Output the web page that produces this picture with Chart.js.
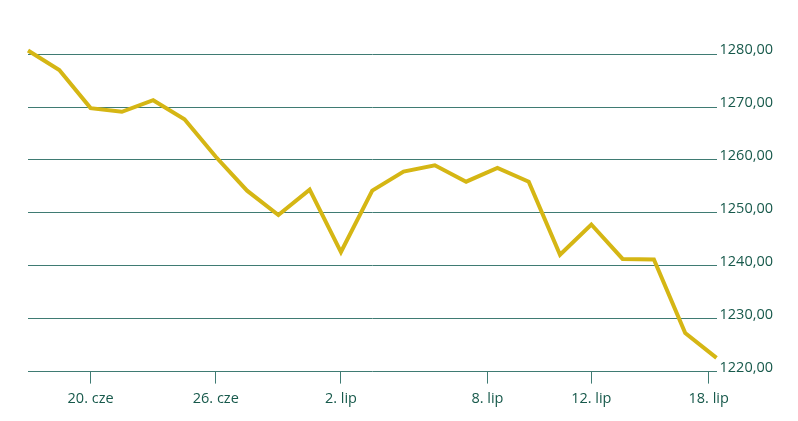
<!DOCTYPE html>
<html>
<head>
<meta charset="utf-8">
<script src="https://cdn.jsdelivr.net/npm/chart.js@4/dist/chart.umd.min.js"></script>
<style>
html,body{margin:0;padding:0;background:#fff;}
#wrap{width:798px;height:421px;position:relative;}
</style>
</head>
<body>
<div id="wrap"><canvas id="c"></canvas></div>
<script>
// Trading days 18 Jun 2018 – 18 Jul 2018 (index along x)
const categories = ["18.06","19.06","20.06","21.06","22.06","25.06","26.06","27.06","28.06","29.06",
  "02.07","03.07","04.07","05.07","06.07","09.07","10.07","11.07","12.07","13.07","16.07","17.07","18.07"];
const prices = [1280.7, 1277.0, 1269.8, 1269.1, 1271.3, 1267.7, 1260.6, 1254.2, 1249.6, 1254.4,
  1242.6, 1254.2, 1257.8, 1259.0, 1255.9, 1258.5, 1255.9, 1242.1, 1247.8, 1241.3, 1241.2, 1227.3, 1222.6];
const xTickPositions = [2, 6, 10, 14.68, 18, 21.75];
const xTickLabels = ["20. cze", "26. cze", "2. lip", "8. lip", "12. lip", "18. lip"];
const yTickValues = [1220, 1230, 1240, 1250, 1260, 1270, 1280];

const FONT = "'Open Sans', 'DejaVu Sans', sans-serif";
const TEXT = "#17594b";
const GRID = "#3f7b73";

new Chart(document.getElementById('c'), {
  type: 'line',
  data: {
    datasets: [{
      data: prices.map((v, i) => ({x: i, y: v})),
      borderColor: '#d5b614',
      borderWidth: 4,
      pointRadius: 0,
      tension: 0,
      fill: false,
      borderJoinStyle: 'miter',
      clip: false
    }]
  },
  options: {
    responsive: true,
    maintainAspectRatio: false,
    animation: false,
    events: [],
    layout: {padding: {left: 28, right: 22, top: 33, bottom: 6}},
    plugins: {legend: {display: false}, tooltip: {enabled: false}},
    scales: {
      x: {
        type: 'linear',
        min: 0,
        max: categories.length - 1,
        afterBuildTicks: (axis) => { axis.ticks = xTickPositions.map(v => ({value: v})); },
        border: {display: false},
        grid: {drawOnChartArea: false, drawTicks: true, tickLength: 12, color: GRID, lineWidth: 1},
        ticks: {
          autoSkip: false,
          maxRotation: 0,
          padding: 7,
          color: TEXT,
          font: {family: FONT, size: 14.5},
          callback: (v) => { const i = xTickPositions.indexOf(v); return i >= 0 ? xTickLabels[i] : ''; }
        }
      },
      y: {
        position: 'right',
        min: 1220,
        max: 1284,
        afterBuildTicks: (axis) => { axis.ticks = yTickValues.map(v => ({value: v})); },
        border: {display: false},
        grid: {drawTicks: false, color: GRID, lineWidth: 1},
        ticks: {
          padding: 3,
          labelOffset: -4,
          color: TEXT,
          font: {family: FONT, size: 14.5},
          callback: (v) => v.toFixed(2).replace('.', ',')
        }
      }
    }
  }
});
</script>
</body>
</html>
